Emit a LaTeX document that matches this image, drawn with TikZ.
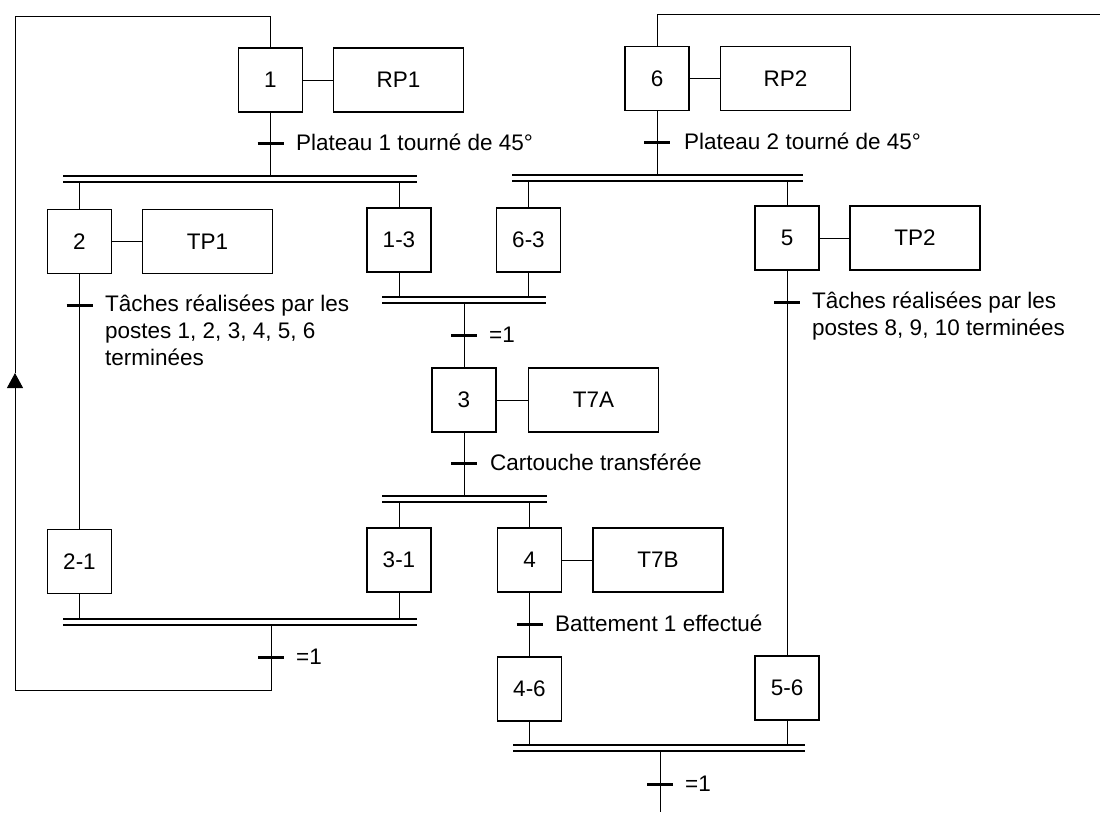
\documentclass[tikz,border=0pt]{standalone}
\usepackage{fontspec}
\setmainfont{Liberation Sans}
\usetikzlibrary{arrows.meta}
\begin{document}
\begin{tikzpicture}[x=1pt,y=-1pt,
  every node/.style={font=\fontsize{22.5}{27}\selectfont},
  stepbox/.style={draw, line width=1.6pt, minimum width=64pt, minimum height=64pt, inner sep=0pt},
  actbox/.style={draw, line width=1.6pt, minimum width=130pt, minimum height=64pt, inner sep=0pt},
  link/.style={line width=1pt},
  tbar/.style={line width=3pt},
  dbar/.style={line width=1.6pt},
  lbl/.style={anchor=base west, inner sep=0pt}
]
\fill[white] (0,0) rectangle (1100,812);
\useasboundingbox (0,0) rectangle (1100,812);

% steps
\node[stepbox] (s1)  at (270.5,80)   {1};
\node[stepbox] (s6)  at (657,78.5)   {6};
\node[stepbox] (s2)  at (79.5,241.5) {2};
\node[stepbox] (s13) at (399,240)    {1-3};
\node[stepbox] (s63) at (528.5,240)  {6-3};
\node[stepbox] (s5)  at (787,238)    {5};
\node[stepbox] (s3)  at (464,400)    {3};
\node[stepbox] (s21) at (79.5,561.5) {2-1};
\node[stepbox] (s31) at (399,560)    {3-1};
\node[stepbox] (s4)  at (529.5,560)  {4};
\node[stepbox] (s46) at (529.5,689)  {4-6};
\node[stepbox] (s56) at (787,688)    {5-6};

% actions
\node[actbox] (a1) at (398.5,80)   {RP1};
\node[actbox] (a6) at (785.5,78.5) {RP2};
\node[actbox] (a2) at (207.5,241.5){TP1};
\node[actbox] (a5) at (915,238)    {TP2};
\node[actbox] (a3) at (593.5,400)  {T7A};
\node[actbox] (a4) at (658,560)    {T7B};
\foreach \s/\a in {s1/a1,s6/a6,s2/a2,s5/a5,s3/a3,s4/a4}
  \draw[link] (\s.east) -- (\a.west);

% double bars (top line coordinates)
\coordinate (D1)  at (63,176);  \coordinate (D1r)  at (417,176);
\coordinate (D6)  at (512,175); \coordinate (D6r)  at (803,175);
\coordinate (C13) at (382,297); \coordinate (C13r) at (546,297);
\coordinate (D3)  at (382,496); \coordinate (D3r)  at (547,496);
\coordinate (C21) at (63,619);  \coordinate (C21r) at (417,619);
\coordinate (CE)  at (513,745); \coordinate (CEr)  at (805,745);
\foreach \b in {D1,D6,C13,D3,C21,CE} {
  \coordinate (\b b) at ([yshift=-6pt]\b);
  \draw[dbar] (\b) -- (\b r);
  \draw[dbar] (\b b) -- ([yshift=-6pt]\b r);
}

% transitions
\coordinate (t1)   at (270.5,143);
\coordinate (t6)   at (657,142);
\coordinate (t2)   at (79.5,305);
\coordinate (t5)   at (787,302);
\coordinate (t3a)  at (464,335);
\coordinate (t3b)  at (464,463);
\coordinate (t4)   at (529.5,624);
\coordinate (t21)  at (271,657);
\coordinate (tend) at (660,784);
\foreach \t in {t1,t6,t2,t5,t3a,t3b,t4,t21,tend}
  \draw[tbar] ([xshift=-13pt]\t) -- ([xshift=13pt]\t);

% labels
\node[lbl] (l1) at (296,150.5) {Plateau 1 tourné de 45°};
\node[lbl] (l6) at (684,149.5) {Plateau 2 tourné de 45°};
\node[lbl] (l2) at (105,311) {\vtop{\hbox{Tâches réalisées par les}\hbox{postes 1, 2, 3, 4, 5, 6}\hbox{terminées}}};
\node[lbl] (l5) at (812,308) {\vtop{\hbox{Tâches réalisées par les}\hbox{postes 8, 9, 10 terminées}}};
\node[lbl] (l3a) at (489,342.5) {=1};
\node[lbl] (l3b) at (490,470) {Cartouche transférée};
\node[lbl] (l4) at (555,631) {Battement 1 effectué};
\node[lbl] (l21) at (296,664) {=1};
\node[lbl] (lend) at (685,791) {=1};

% links
\draw[link] (s1.south) -- (s1.south |- D1);
\draw[link] (s2.north) -- (s2.north |- D1b);
\draw[link] (s13.north) -- (s13.north |- D1b);
\draw[link] (s6.south) -- (s6.south |- D6);
\draw[link] (s63.north) -- (s63.north |- D6b);
\draw[link] (s5.north) -- (s5.north |- D6b);
\draw[link] (s13.south) -- (s13.south |- C13);
\draw[link] (s63.south) -- (s63.south |- C13);
\draw[link] (s3.north |- C13b) -- (s3.north);
\draw[link] (s3.south) -- (s3.south |- D3);
\draw[link] (s31.north) -- (s31.north |- D3b);
\draw[link] (s4.north) -- (s4.north |- D3b);
\draw[link] (s2.south) -- (s21.north);
\draw[link] (s5.south) -- (s56.north);
\draw[link] (s4.south) -- (s46.north);
\draw[link] (s21.south) -- (s21.south |- C21);
\draw[link] (s31.south) -- (s31.south |- C21);
\draw[link] (s46.south) -- (s46.south |- CE);
\draw[link] (s56.south) -- (s56.south |- CE);

% loop back to step 1
\coordinate (lb) at (15,690);
\coordinate (la) at (15,373);
\coordinate (lt) at (15,16);
\draw[link] (C21b -| t21) -- (t21 |- lb) -- (lb);
\draw[link, -{Triangle[width=16pt,length=15pt]}] (lb) -- (la);
\draw[link] (la) -- (lt) -| (s1.north);

% step 6 upward link
\coordinate (r6) at (1100,14);
\draw[link] (s6.north) |- (r6);

% final
\coordinate (fend) at (660,812);
\draw[link] (CEb -| tend) -- (fend);
\end{tikzpicture}
\end{document}
